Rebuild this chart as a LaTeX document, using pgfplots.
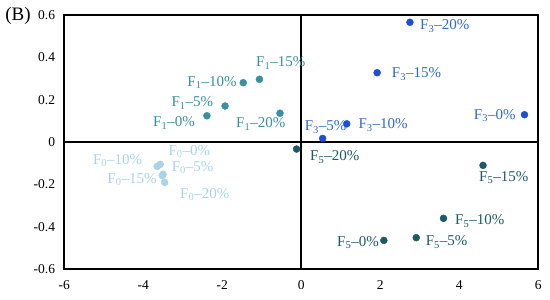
\documentclass[border=0pt]{standalone}
\usepackage{fontspec}
\setmainfont{Liberation Serif}
\usepackage{pgfplots}
\pgfplotsset{compat=1.18}
\definecolor{cF0}{HTML}{A9D4E6}
\definecolor{cF1}{HTML}{3A8FA3}
\definecolor{cF3}{HTML}{1B4FD6}
\definecolor{cF3t}{HTML}{2E6BCE}
\definecolor{cF5}{HTML}{1E5A66}
\newcommand{\lab}[2]{F\textsubscript{#1}–#2\%}
\begin{document}
\begin{tikzpicture}
\begin{axis}[
  width=474pt, height=254.4pt, scale only axis,
  xmin=-6, xmax=6, ymin=-0.6, ymax=0.6,
  clip=false,
  axis line style={line width=1.8pt},
  major tick length=0pt,
  xtick={-6,-4,-2,0,2,4,6},
  xticklabels={-6,-4,-2,0,2,4,6},
  ytick={-0.6,-0.4,-0.2,0,0.2,0.4,0.6},
  yticklabels={-0.6,-0.4,-0.2,0,0.2,0.4,0.6},
  tick label style={font=\fontsize{13.5}{15}\selectfont},
  yticklabel style={inner sep=0pt, xshift=-9pt},
  xticklabel style={inner sep=0pt, yshift=-11pt},
]
\path (axis cs:-7.628,0.670) rectangle (axis cs:6.296,-0.745);
\draw[line width=1.8pt] (axis cs:-6,0) -- (axis cs:6,0);
\draw[line width=1.8pt] (axis cs:0,-0.6) -- (axis cs:0,0.6);
% F0
\addplot[only marks, mark=*, mark size=3.5pt, color=cF0] coordinates {
 (-3.57,-0.105) (-3.65,-0.115) (-3.50,-0.152) (-3.52,-0.158) (-3.46,-0.190)};
% F1
\addplot[only marks, mark=*, mark size=3.5pt, color=cF1] coordinates {
 (-2.39,0.124) (-1.93,0.170) (-1.47,0.280) (-1.06,0.296) (-0.54,0.136)};
% F3
\addplot[only marks, mark=*, mark size=3.5pt, color=cF3] coordinates {
 (5.65,0.129) (0.54,0.017) (1.15,0.086) (1.92,0.327) (2.75,0.565)};
% F5
\addplot[only marks, mark=*, mark size=3.5pt, color=cF5] coordinates {
 (2.09,-0.464) (2.91,-0.451) (3.60,-0.360) (4.60,-0.110) (-0.12,-0.033)};
\begin{scope}[every node/.style={inner sep=0pt, font=\fontsize{15}{17}\selectfont}]
\node[anchor=west, text=cF1] at (axis cs:-1.147,0.373) {\lab{1}{15}};
\node[anchor=east, text=cF1] at (axis cs:-1.635,0.281) {\lab{1}{10}};
\node[anchor=east, text=cF1] at (axis cs:-2.228,0.184) {\lab{1}{5}};
\node[anchor=east, text=cF1] at (axis cs:-2.691,0.090) {\lab{1}{0}};
\node[anchor=west, text=cF1] at (axis cs:-1.653,0.085) {\lab{1}{20}};
\node[anchor=west, text=cF3t] at (axis cs:3.005,0.547) {\lab{3}{20}};
\node[anchor=west, text=cF3t] at (axis cs:2.289,0.321) {\lab{3}{15}};
\node[anchor=east, text=cF3t] at (axis cs:5.428,0.123) {\lab{3}{0}};
\node[anchor=west, text=cF3t] at (axis cs:1.443,0.080) {\lab{3}{10}};
\node[anchor=east, text=cF3t] at (axis cs:1.149,0.071) {\lab{3}{5}};
\node[anchor=west, text=cF5] at (axis cs:0.220,-0.071) {\lab{5}{20}};
\node[anchor=west, text=cF5] at (axis cs:4.499,-0.167) {\lab{5}{15}};
\node[anchor=west, text=cF5] at (axis cs:3.891,-0.373) {\lab{5}{10}};
\node[anchor=west, text=cF5] at (axis cs:3.149,-0.472) {\lab{5}{5}};
\node[anchor=east, text=cF5] at (axis cs:1.967,-0.476) {\lab{5}{0}};
\node[anchor=east, text=cF0] at (axis cs:-4.025,-0.087) {\lab{0}{10}};
\node[anchor=west, text=cF0] at (axis cs:-3.367,-0.044) {\lab{0}{0}};
\node[anchor=west, text=cF0] at (axis cs:-3.281,-0.122) {\lab{0}{5}};
\node[anchor=east, text=cF0] at (axis cs:-3.661,-0.177) {\lab{0}{15}};
\node[anchor=west, text=cF0] at (axis cs:-3.071,-0.247) {\lab{0}{20}};
\node[anchor=west, font=\fontsize{19}{21}\selectfont] at (axis cs:-7.50,0.594) {(B)};
\end{scope}
\end{axis}
\end{tikzpicture}
\end{document}
